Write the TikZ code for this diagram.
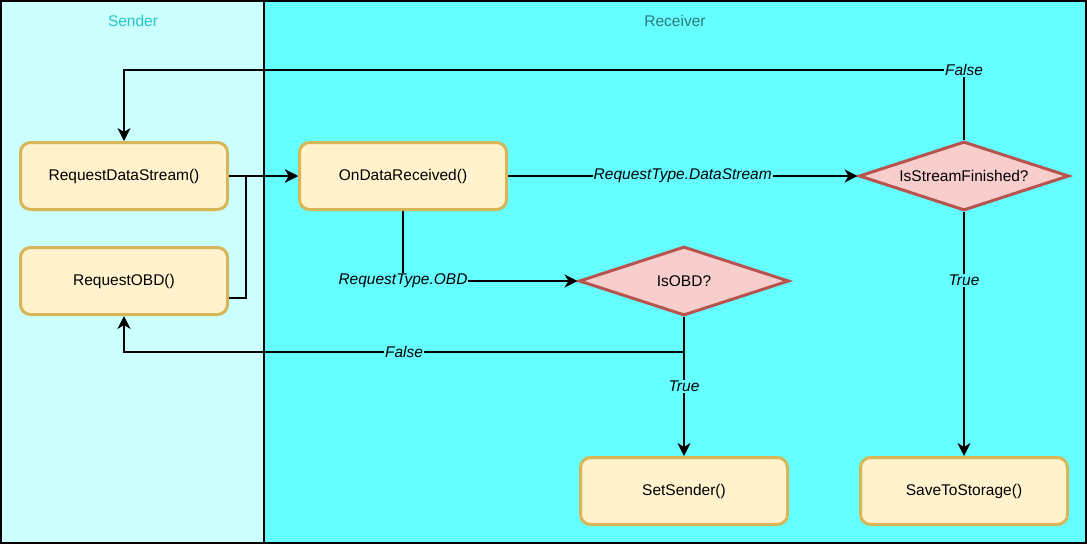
\documentclass[tikz,border=0pt]{standalone}
\usepackage{fontspec}
\setmainfont{Liberation Sans}
\usetikzlibrary{arrows.meta}
\usetikzlibrary{calc}
\usetikzlibrary{shapes.geometric}
\definecolor{senderlane}{HTML}{CCFFFF}
\definecolor{receiverlane}{HTML}{66FFFF}
\definecolor{sendertitle}{HTML}{26C6C6}
\definecolor{receivertitle}{HTML}{2B7B7B}
\definecolor{callfill}{HTML}{FFF2CC}
\definecolor{callline}{HTML}{D6B656}
\definecolor{testfill}{HTML}{F8CECC}
\definecolor{testline}{HTML}{B85450}

\begin{document}
\begin{tikzpicture}[
	x=1pt, y=-1pt,
	every node/.style={font=\fontsize{15.5}{18}\selectfont},
  > = {Stealth[length=13pt,width=13pt,inset=4pt]},
  lane/.style = {draw, line width=2pt},
  callbox/.style = {draw=callline, fill=callfill, line width=3pt, rounded corners=10pt,
    minimum width=207pt, minimum height=67pt, inner sep=0pt},
  testbox/.style = {diamond, aspect=3, draw=testline, fill=testfill, line width=3pt,
    minimum width=210pt, minimum height=69pt, inner sep=0pt},
  link/.style = {draw, line width=1.5pt},
  cond/.style = {fill=receiverlane, inner sep=1pt, font=\itshape\fontsize{15.5}{18}\selectfont}
  ]
	\useasboundingbox (0,0) rectangle (1087,544);

	% swimlanes
	\draw[lane, fill=senderlane] (1,1) rectangle (264,543);
	\draw[lane, fill=receiverlane] (264,1) rectangle (1086,543);
	\node[text=sendertitle] (sendhead) at (133,21) {Sender};
	\node[text=receivertitle] (recvhead) at (675,21) {Receiver};

	\coordinate (@rds) at (124,176);
	\coordinate (@obd) at (124,281);
	\coordinate (@recv) at (403,176);
	\coordinate (@isobd) at (684,281);
	\coordinate (@isf) at (964,176);
	\coordinate (@setsnd) at (684,491);
	\coordinate (@save) at (964,491);

	\node[callbox] (rds) at (@rds) {RequestDataStream()};
	\node[callbox] (obd) at (@obd) {RequestOBD()};
	\node[callbox] (recv) at (@recv) {OnDataReceived()};
	\node[testbox] (isobd) at (@isobd) {IsOBD?};
	\node[testbox] (isf) at (@isf) {IsStreamFinished?};
	\node[callbox] (setsnd) at (@setsnd) {SetSender()};
	\node[callbox] (save) at (@save) {SaveToStorage()};

	\draw[link,->] (rds) -- (recv);
	\draw[link,->] ($(obd.east)+(0,17)$) -- ++(17,0) |- (recv.west);
	\draw[link,->] (recv) -- node[cond] {RequestType.DataStream} (isf);
	\draw[link,->] (recv) |- node[cond] {RequestType.OBD} (isobd);
	\draw[link,->] (isf.north) -- ++(0,-70) node[cond] {False} -| (rds);
	\draw[link,->] (isf) -- node[cond, pos=0.28] {True} (save);
	\draw[link,->] (isobd) -- node[cond] {True} (setsnd);
	\draw[link,->] (isobd.south) -- ++(0,35) -| node[cond, pos=0.25] {False} (obd);

\end{tikzpicture}
\end{document}
